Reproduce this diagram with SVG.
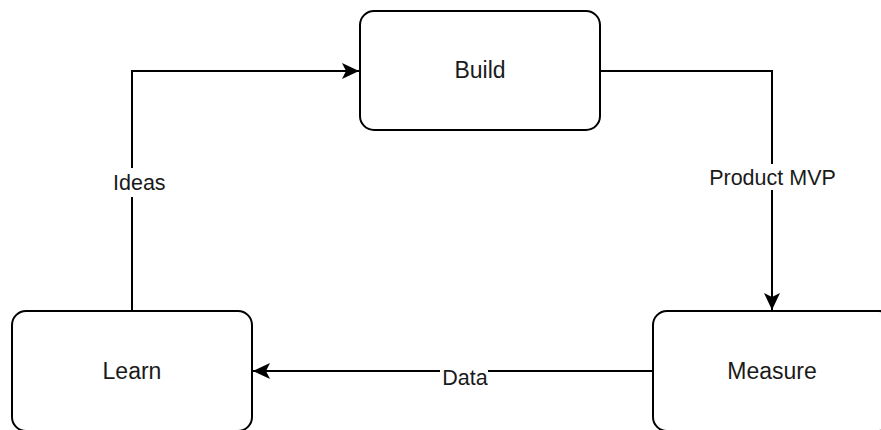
<svg xmlns="http://www.w3.org/2000/svg" width="881" height="430" viewBox="0 0 881 430">
  <style>
    .node rect { fill: #ffffff; stroke: #000000; stroke-width: 2; }
    .node text { font-family: "Liberation Sans", Arial, sans-serif; font-size: 23px; fill: #1a1a1a; text-anchor: middle; }
    .edge { fill: none; stroke: #000000; stroke-width: 2; }
    .lbl-bg { fill: #ffffff; }
    .lbl { font-family: "Liberation Sans", Arial, sans-serif; font-size: 21.5px; fill: #1a1a1a; }
  </style>
  <defs>
    <marker id="arrow" viewBox="0 0 18 16" refX="17" refY="8" markerWidth="18" markerHeight="16" markerUnits="userSpaceOnUse" orient="auto">
      <path d="M0,0 L17,8 L0,16 L4,8 Z" fill="#000000"/>
    </marker>
  </defs>
  <rect width="881" height="430" fill="#ffffff"/>

  <g id="connectors">
    <!-- Learn -> Build -->
    <path class="edge" d="M132,311 V71 H359" marker-end="url(#arrow)"/>
    <!-- Build -> Measure -->
    <path class="edge" d="M600,71 H772 V310" marker-end="url(#arrow)"/>
    <!-- Measure -> Learn -->
    <path class="edge" d="M652,371 H253" marker-end="url(#arrow)"/>

    <rect class="lbl-bg" x="108" y="168" width="60" height="29"/>
    <text class="lbl" x="113" y="190">Ideas</text>

    <rect class="lbl-bg" x="706" y="164" width="133" height="26"/>
    <text class="lbl" x="772.5" y="185" text-anchor="middle">Product MVP</text>

    <rect class="lbl-bg" x="440" y="364" width="48" height="24"/>
    <text class="lbl" x="465" y="385" text-anchor="middle">Data</text>
  </g>

  <g id="build" class="node">
    <rect x="360" y="11" width="240" height="119" rx="14" ry="14"/>
    <text x="480" y="78">Build</text>
  </g>

  <g id="learn" class="node">
    <rect x="12" y="311" width="240" height="120" rx="14" ry="14"/>
    <text x="132" y="379">Learn</text>
  </g>

  <g id="measure" class="node">
    <rect x="653" y="311" width="240" height="120" rx="14" ry="14"/>
    <text x="772" y="379">Measure</text>
  </g>
</svg>
